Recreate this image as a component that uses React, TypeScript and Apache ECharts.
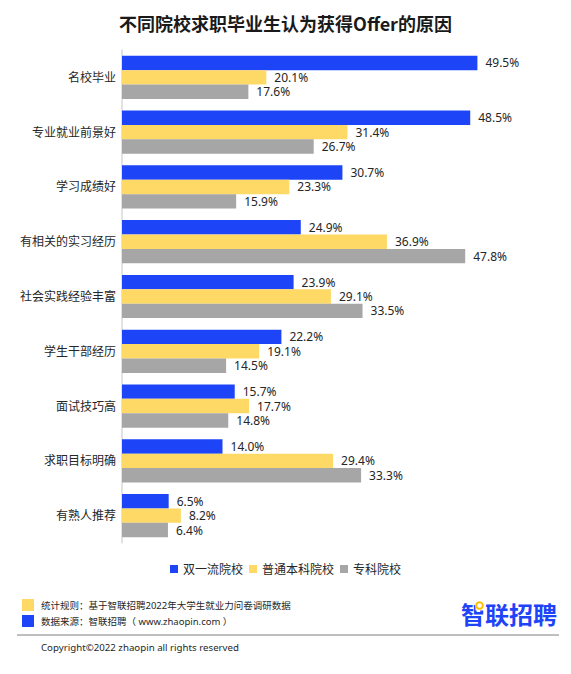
import React, { useEffect, useRef } from "react";
import * as echarts from "echarts";

const categories = [
  "名校毕业",
  "专业就业前景好",
  "学习成绩好",
  "有相关的实习经历",
  "社会实践经验丰富",
  "学生干部经历",
  "面试技巧高",
  "求职目标明确",
  "有熟人推荐",
];
const seriesNames = ["双一流院校", "普通本科院校", "专科院校"];
const doubleFirstClass = [49.5, 48.5, 30.7, 24.9, 23.9, 22.2, 15.7, 14.0, 6.5];
const regularUndergrad = [20.1, 31.4, 23.3, 36.9, 29.1, 19.1, 17.7, 29.4, 8.2];
const vocational = [17.6, 26.7, 15.9, 47.8, 33.5, 14.5, 14.8, 33.3, 6.4];
const colors = ["#1e44f8", "#ffd966", "#a6a6a6"];

const titleText = "不同院校求职毕业生认为获得Offer的原因";
const ruleText = "统计规则：基于智联招聘2022年大学生就业力问卷调研数据";
const sourceText = "数据来源：智联招聘（ www.zhaopin.com ）";
const copyrightText = "Copyright©2022 zhaopin all rights reserved";
const logoText = "智联招聘";

const FONT = "'Noto Sans', 'Noto Sans CJK SC', sans-serif";

export default function App() {
  const ref = useRef<HTMLDivElement>(null);
  useEffect(() => {
    if (!ref.current) return;
    const chart = echarts.init(ref.current, undefined, { renderer: "svg" });
    const values = [doubleFirstClass, regularUndergrad, vocational];
    chart.setOption({
      animation: false,
      backgroundColor: "#ffffff",
      textStyle: { fontFamily: FONT },
      title: {
        text: titleText,
        left: "center",
        top: 9,
        textStyle: {
          fontFamily: "'Noto Sans CJK SC', sans-serif",
          fontSize: 18,
          fontWeight: "bold",
          color: "#1a1a1a",
        },
      },
      legend: {
        data: seriesNames,
        bottom: 94,
        left: "center",
        itemWidth: 8,
        itemHeight: 8,
        itemGap: 6,
        icon: "rect",
        textStyle: { fontSize: 12, color: "#262626", fontFamily: FONT },
      },
      grid: {
        left: 122,
        right: 90,
        top: 50,
        bottom: 131,
        containLabel: false,
      },
      xAxis: {
        type: "value",
        min: 0,
        max: 50,
        show: false,
      },
      yAxis: {
        type: "category",
        data: categories,
        inverse: true,
        axisLine: { show: true, lineStyle: { color: "#d9d9d9", width: 1.5 } },
        axisTick: { show: false },
        axisLabel: { fontSize: 12, color: "#262626", margin: 6, fontFamily: FONT },
      },
      series: seriesNames.map((name, i) => ({
        name,
        type: "bar",
        data: values[i],
        barWidth: 14.4,
        barGap: "0%",
        itemStyle: { color: colors[i] },
        label: {
          show: true,
          position: "right",
          distance: 8,
          fontSize: 12,
          color: "#262626",
          fontFamily: FONT,
          formatter: (p: any) => p.value.toFixed(1) + "%",
        },
      })),
      graphic: [
        { type: "rect", shape: { x: 22, y: 599, width: 12, height: 12 }, style: { fill: colors[1] } },
        { type: "rect", shape: { x: 22, y: 615, width: 12, height: 12 }, style: { fill: colors[0] } },
        {
          type: "text",
          x: 41,
          y: 605,
          style: { text: ruleText, fontSize: 9.5, fill: "#262626", fontFamily: FONT, verticalAlign: "middle" },
        },
        {
          type: "text",
          x: 41,
          y: 621,
          style: { text: sourceText, fontSize: 9.5, fill: "#262626", fontFamily: FONT, verticalAlign: "middle" },
        },
        {
          type: "text",
          x: 461,
          y: 613,
          style: {
            text: logoText,
            fontSize: 24,
            fontWeight: "bold",
            fill: "#1e44f8",
            fontFamily: "'Noto Sans CJK SC', sans-serif",
            verticalAlign: "middle",
          },
        },
        {
          type: "rect",
          shape: { x: 475.5, y: 601.5, width: 9, height: 9 },
          style: { fill: "#ffffff" },
        },
        {
          type: "circle",
          shape: { cx: 479.5, cy: 605.5, r: 3.3 },
          style: { fill: "none", stroke: "#ffc000", lineWidth: 2 },
        },
        {
          type: "line",
          shape: { x1: 17, y1: 635, x2: 559, y2: 635 },
          style: { stroke: "#7f7f7f", lineWidth: 1 },
        },
        {
          type: "text",
          x: 41,
          y: 647,
          style: { text: copyrightText, fontSize: 9.7, fill: "#262626", fontFamily: FONT, verticalAlign: "middle" },
        },
      ],
    });
    return () => chart.dispose();
  }, []);
  return (
    <div
      ref={ref}
      style={{ position: "absolute", left: 0, top: 0, width: 571, height: 674 }}
    />
  );
}
